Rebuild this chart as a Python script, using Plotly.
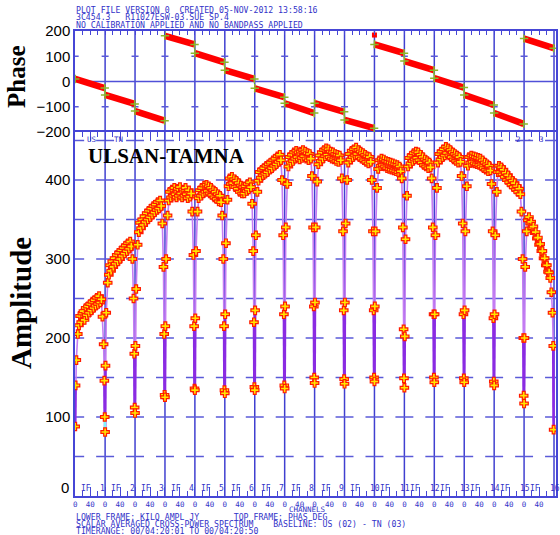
import plotly.graph_objects as go

# ---------------- data ----------------
N_CHAN = 80  # channels per IF
edge_lo = [0, 1, 3, 7]
plateau_chan = [10, 13, 16, 19, 22, 25, 28, 31, 34, 37, 40, 43, 46, 49, 52, 55, 58, 61, 64, 67, 70]
edge_hi = [73, 76, 78, 79]
chan_sel = edge_lo + plateau_chan + edge_hi

amp_if01 = [88, 140, 172, 205,
            216, 228, 220, 231, 234, 223, 238, 229, 240, 232, 243, 235, 246, 238, 248, 241, 251, 243, 253, 245, 249,
            227, 192, 146, 100]
amp_if02 = [81, 165, 232, 270,
            280, 292, 285, 297, 290, 301, 294, 305, 297, 308, 300, 311, 304, 314, 307, 317, 310, 320, 313, 322, 316,
            300, 250, 180, 112]
amp_if03 = [105, 190, 262, 318,
            334, 346, 339, 350, 343, 354, 347, 358, 350, 361, 353, 364, 356, 367, 359, 369, 362, 372, 364, 374, 367,
            345, 290, 205, 128]
amp_if04 = [125, 215, 300, 355,
            374, 385, 378, 388, 380, 390, 382, 378, 389, 380, 391, 383, 378, 388, 380, 390, 382, 377, 387, 379, 383,
            360, 305, 215, 136]
amp_if05 = [134, 225, 310, 360,
            377, 387, 380, 390, 383, 393, 385, 394, 386, 392, 383, 390, 381, 387, 378, 385, 376, 382, 373, 380, 372,
            355, 300, 215, 134]
amp_if06 = [130, 230, 320, 375,
            392, 402, 395, 404, 396, 401, 391, 399, 389, 396, 385, 393, 383, 391, 383, 392, 386, 395, 388, 397, 391,
            370, 310, 220, 138]
amp_if07 = [134, 235, 330, 385,
            399, 410, 403, 413, 406, 415, 408, 418, 410, 420, 413, 422, 415, 425, 418, 427, 420, 430, 423, 432, 425,
            400, 330, 230, 140]
amp_if08 = [136, 240, 340, 395,
            417, 429, 422, 432, 424, 435, 427, 437, 429, 435, 426, 436, 428, 438, 430, 436, 427, 434, 425, 433, 427,
            405, 340, 240, 150]
amp_if09 = [143, 245, 340, 398,
            420, 431, 424, 435, 427, 438, 430, 440, 432, 439, 429, 436, 427, 435, 426, 433, 424, 432, 423, 431, 425,
            402, 335, 235, 148]
amp_if10 = [142, 245, 345, 400,
            422, 433, 426, 437, 429, 439, 431, 441, 433, 438, 429, 436, 427, 434, 425, 432, 423, 430, 421, 429, 423,
            400, 335, 235, 150]
amp_if11 = [145, 240, 335, 390,
            414, 425, 418, 427, 419, 426, 417, 424, 415, 423, 414, 422, 413, 421, 412, 420, 411, 419, 410, 417, 411,
            402, 340, 211, 149]
amp_if12 = [137, 202, 325, 380,
            417, 428, 421, 431, 424, 434, 426, 436, 428, 435, 425, 432, 422, 429, 419, 426, 417, 424, 415, 422, 416,
            402, 340, 230, 150]
amp_if13 = [144, 230, 330, 390,
            422, 433, 426, 436, 429, 439, 431, 442, 434, 440, 431, 438, 429, 435, 426, 433, 424, 431, 422, 429, 423,
            405, 345, 230, 149]
amp_if14 = [144, 235, 335, 392,
            418, 429, 422, 431, 423, 430, 421, 429, 420, 428, 419, 427, 417, 425, 415, 422, 413, 420, 411, 418, 412,
            395, 335, 225, 145]
amp_if15 = [140, 230, 330, 385,
            410, 418, 410, 416, 407, 413, 404, 409, 400, 406, 397, 402, 394, 399, 391, 396, 388, 392, 385, 389, 382,
            360, 300, 200, 127]
amp_if16 = [117, 200, 290, 335,
            349, 353, 345, 347, 339, 341, 333, 334, 326, 327, 318, 319, 310, 310, 301, 301, 292, 292, 284, 283, 276,
            258, 232, 190, 84]
amp_by_if = [amp_if01, amp_if02, amp_if03, amp_if04, amp_if05, amp_if06, amp_if07, amp_if08,
             amp_if09, amp_if10, amp_if11, amp_if12, amp_if13, amp_if14, amp_if15, amp_if16]

phase_start = [10, -53, -117, 181, 112, 45, -27, -86, -86, -152, 147, 81, 13, -53, -125, 170]
phase_end = [-26, -89, -155, 147, 76, 10, -62, -125, -120, -185, 112, 45, -24, -93, -168, 132]
phase_outlier_if = [10]      # zero-based IF index
phase_outlier_chan = [0]
phase_outlier_val = [184]

amp_tick_vals = [100, 200, 300, 400]
amp_tick_text = ["100", "200", "300", "400"]
phase_tick_vals = [-200, -100, 0, 100, 200]
phase_tick_text = ["\u2212200", "\u2212100", "0", "100", "200"]
chan_tick_offsets = [0, 40]
chan_tick_labels = ["0", "40"]

header_lines = ["PLOT FILE VERSION 0  CREATED 05-NOV-2012 13:58:16",
                "3C454.3   R11027ESW-03.SUE SP.4",
                "NO CALIBRATION APPLIED AND NO BANDPASS APPLIED"]
footer_lines = ["LOWER FRAME: KILO AMPL JY       TOP FRAME: PHAS DEG",
                "SCALAR AVERAGED CROSS-POWER SPECTRUM    BASELINE: US (02) - TN (03)",
                "TIMERANGE: 00/04:20:01 TO 00/04:20:50"]

# ---------------- geometry ----------------
W, H = 560, 535
L, R, T, B = 75, 2, 31, 39
PW = W - L - R
PH = H - T - B
SPLIT_PX = 132
split = (H - B - SPLIT_PX) / PH
AMP_MAX = (H - B - SPLIT_PX) / 0.79
N_IF = len(amp_by_if)
X_MAX = N_IF * N_CHAN + 2 * (N_CHAN / 30.06)
UPX = (X_MAX + 0.5) / PW  # data units per pixel

def fy(py):
    return (H - B - py) / PH

def fx(px):
    return (px - L) / PW

BLUE = "#4646d6"
TXT_BLUE = "#3232c8"
MONO = "DejaVu Sans Mono"
MONO_SIZE = 8.2

fig = go.Figure()

# grid dashes (crosses at each IF boundary)
gx, gy = [], []
for lev in range(50, 451, 50):
    for k in range(N_IF + 1):
        gx += [k * N_CHAN - 9 * UPX, k * N_CHAN + 9 * UPX, None]
        gy += [lev, lev, None]
fig.add_trace(go.Scatter(x=gx, y=gy, mode="lines", line=dict(color="#5a5ad8", width=1.5),
                         hoverinfo="skip", showlegend=False, xaxis="x", yaxis="y"))
px_, py_ = [], []
for lev in (-100, 100):
    for k in range(N_IF + 1):
        px_ += [k * N_CHAN - 3.5 * UPX, k * N_CHAN + 3.5 * UPX, None]
        py_ += [lev, lev, None]
fig.add_trace(go.Scatter(x=px_, y=py_, mode="lines", line=dict(color="#5a5ad8", width=1.5),
                         hoverinfo="skip", showlegend=False, xaxis="x2", yaxis="y2"))

# amplitude lines, connections and markers
ax, ay, lx, ly, cx, cy, dx, dy = [], [], [], [], [], [], [], []
for k, amps in enumerate(amp_by_if):
    xs = [k * N_CHAN + c for c in chan_sel]
    ax += xs
    ay += amps
    lx += xs + [None]
    ly += amps + [None]
    dx += [xs[0], xs[1], None, xs[-2], xs[-1], None]
    dy += [amps[0], amps[1], None, amps[-2], amps[-1], None]
    if k + 1 < N_IF:
        cx += [xs[-1], (k + 1) * N_CHAN + chan_sel[0], None]
        cy += [amps[-1], amp_by_if[k + 1][0], None]

fig.add_trace(go.Scatter(x=lx, y=ly, mode="lines", line=dict(color="#c47cf2", width=1.6),
                         hoverinfo="skip", showlegend=False, xaxis="x", yaxis="y"))
fig.add_trace(go.Scatter(x=dx, y=dy, mode="lines", line=dict(color="#8a2be2", width=2.6),
                         hoverinfo="skip", showlegend=False, xaxis="x", yaxis="y"))
fig.add_trace(go.Scatter(x=cx, y=cy, mode="lines", line=dict(color="#7ff4ff", width=2.5),
                         hoverinfo="skip", showlegend=False, xaxis="x", yaxis="y"))
fig.add_trace(go.Scatter(x=ax, y=ay, mode="markers",
                         marker=dict(symbol="cross", size=7, color="#ffe600",
                                     line=dict(color="#ff1a00", width=1.2)),
                         showlegend=False, xaxis="x", yaxis="y"))

# phase segments
phx, phy, ex, ey = [], [], [], []
for k in range(N_IF):
    x0 = k * N_CHAN + chan_sel[0]
    x1 = k * N_CHAN + chan_sel[-1]
    phx += [x0, x1, None]
    phy += [phase_start[k], phase_end[k], None]
    ex += [x0, x1]
    ey += [phase_start[k], phase_end[k]]
fig.add_trace(go.Scatter(x=phx, y=phy, mode="lines", line=dict(color="#ff0000", width=6.5),
                         hoverinfo="skip", showlegend=False, xaxis="x2", yaxis="y2"))
fig.add_trace(go.Scatter(x=ex, y=ey, mode="markers",
                         marker=dict(symbol="cross-thin", size=6, line=dict(color="#8cb82a", width=1.5)),
                         showlegend=False, xaxis="x2", yaxis="y2"))
fig.add_trace(go.Scatter(x=[phase_outlier_if[i] * N_CHAN + phase_outlier_chan[i] for i in range(len(phase_outlier_if))],
                         y=phase_outlier_val, mode="markers",
                         marker=dict(symbol="square", size=5, color="#ff0000"),
                         showlegend=False, xaxis="x2", yaxis="y2"))

# shapes: IF boundaries and phase zero line
shapes = []
for k in range(1, N_IF + 1):
    shapes.append(dict(type="line", xref="x", yref="paper", x0=k * N_CHAN, x1=k * N_CHAN,
                       y0=0, y1=1, line=dict(color="#4040d0", width=1.5), layer="below"))
shapes.append(dict(type="line", xref="paper", yref="y2", x0=0, x1=1, y0=0, y1=0,
                   line=dict(color="#5050d8", width=1.5), layer="below"))

tickvals_x, ticktext_x, minor_x = [], [], []
for k in range(N_IF):
    for off, lab in zip(chan_tick_offsets, chan_tick_labels):
        tickvals_x.append(k * N_CHAN + off)
        ticktext_x.append(lab)
    for off in (20, 60):
        minor_x.append(k * N_CHAN + off)

ann = []
for i, line in enumerate(header_lines):
    ann.append(dict(text=line.replace(" ", "\u00a0"), xref="paper", yref="paper",
                    x=fx(L - 1), y=fy(9.5 + 7.6 * i), xanchor="left", yanchor="middle", showarrow=False,
                    font=dict(family=MONO, size=MONO_SIZE, color=TXT_BLUE)))
for i, line in enumerate(footer_lines):
    ann.append(dict(text=line.replace(" ", "\u00a0"), xref="paper", yref="paper",
                    x=fx(L - 1), y=fy(516.5 + 7.3 * i), xanchor="left", yanchor="middle", showarrow=False,
                    font=dict(family=MONO, size=MONO_SIZE, color=TXT_BLUE)))
ann.append(dict(text="CHANNELS", xref="paper", yref="paper", x=fx(308), y=fy(510),
                xanchor="center", yanchor="middle", showarrow=False,
                font=dict(family=MONO, size=7.5, color=TXT_BLUE)))
for k in range(N_IF):
    ann.append(dict(text="IF", xref="x", yref="paper", x=k * N_CHAN + 11 * UPX, y=fy(488),
                    xanchor="center", yanchor="middle", showarrow=False,
                    font=dict(family=MONO, size=8, color=TXT_BLUE)))
    num = str(k + 1)
    shift = -3 if len(num) == 1 else 1
    ann.append(dict(text=num, xref="x", yref="paper", x=(k + 1) * N_CHAN, xshift=shift, y=fy(488),
                    xanchor="center", yanchor="middle", showarrow=False,
                    font=dict(family=MONO, size=8, color=TXT_BLUE)))
for txt, xp in (("US", 92), ("TN", 119), ("2", 520), ("-", 531), ("3", 543)):
    ann.append(dict(text=txt, xref="paper", yref="paper", x=fx(xp), y=fy(139.5),
                    xanchor="center", yanchor="middle", showarrow=False,
                    font=dict(family=MONO, size=7.5, color=TXT_BLUE)))
ann.append(dict(text="<b>ULSAN-TAMNA</b>", xref="paper", yref="paper", x=fx(86), y=fy(156),
                xanchor="left", yanchor="middle", showarrow=False,
                font=dict(family="Liberation Serif", size=21, color="black")))
ann.append(dict(text="<b>Phase</b>", xref="paper", yref="paper", x=0, xshift=17 - L, y=fy(77),
                textangle=-90, xanchor="center", yanchor="middle", showarrow=False,
                font=dict(family="Liberation Serif", size=25, color="black")))
ann.append(dict(text="<b>Amplitude</b>", xref="paper", yref="paper", x=0, xshift=21 - L, y=fy(303),
                textangle=-90, xanchor="center", yanchor="middle", showarrow=False,
                font=dict(family="Liberation Serif", size=29, color="black")))
ann.append(dict(text="0", xref="paper", yref="paper", x=0, xshift=-4, y=fy(487), xanchor="right",
                yanchor="middle", showarrow=False,
                font=dict(family="Liberation Sans", size=15, color="black")))

fig.update_layout(
    width=W, height=H, margin=dict(l=L, r=R, t=T, b=B, pad=0),
    paper_bgcolor="white", plot_bgcolor="white", showlegend=False,
    shapes=shapes, annotations=ann,
    xaxis=dict(domain=[0, 1], range=[-0.5, X_MAX], anchor="y", showgrid=False, zeroline=False,
               showline=True, linecolor=BLUE, linewidth=1.5, mirror="ticks",
               ticks="inside", ticklen=9, tickwidth=1.2, tickcolor=BLUE,
               tickmode="array", tickvals=tickvals_x, ticktext=ticktext_x,
               tickfont=dict(family=MONO, size=7.5, color=TXT_BLUE),
               minor=dict(ticks="inside", ticklen=5, tickwidth=1.2, tickcolor=BLUE,
                          tickmode="array", tickvals=minor_x)),
    yaxis=dict(domain=[0, split], range=[0, AMP_MAX], anchor="x", showgrid=False, zeroline=False,
               showline=True, linecolor=BLUE, linewidth=1.5, mirror=True, ticks="",
               tickmode="array", tickvals=amp_tick_vals, ticktext=amp_tick_text,
               tickfont=dict(family="Liberation Sans", size=15, color="black")),
    xaxis2=dict(domain=[0, 1], range=[-0.5, X_MAX], anchor="y2", matches="x", side="top",
                showgrid=False, zeroline=False, showticklabels=False,
                showline=True, linecolor=BLUE, linewidth=1.5, mirror=False,
                ticks="inside", ticklen=4, tickwidth=1.2, tickcolor=BLUE,
                tickmode="array", tickvals=tickvals_x,
                minor=dict(ticks="inside", ticklen=4, tickwidth=1.2, tickcolor=BLUE,
                           tickmode="array", tickvals=minor_x)),
    yaxis2=dict(domain=[split, 1], range=[-200, 200], anchor="x2", showgrid=False, zeroline=False,
                showline=True, linecolor=BLUE, linewidth=1.5, mirror=True, ticks="",
                tickmode="array", tickvals=phase_tick_vals, ticktext=phase_tick_text,
                tickfont=dict(family="Liberation Sans", size=15, color="black")),
)

fig.write_html("out.html", config={"displayModeBar": False},
               post_script="document.body.style.margin='0';document.body.style.overflow='hidden';")
